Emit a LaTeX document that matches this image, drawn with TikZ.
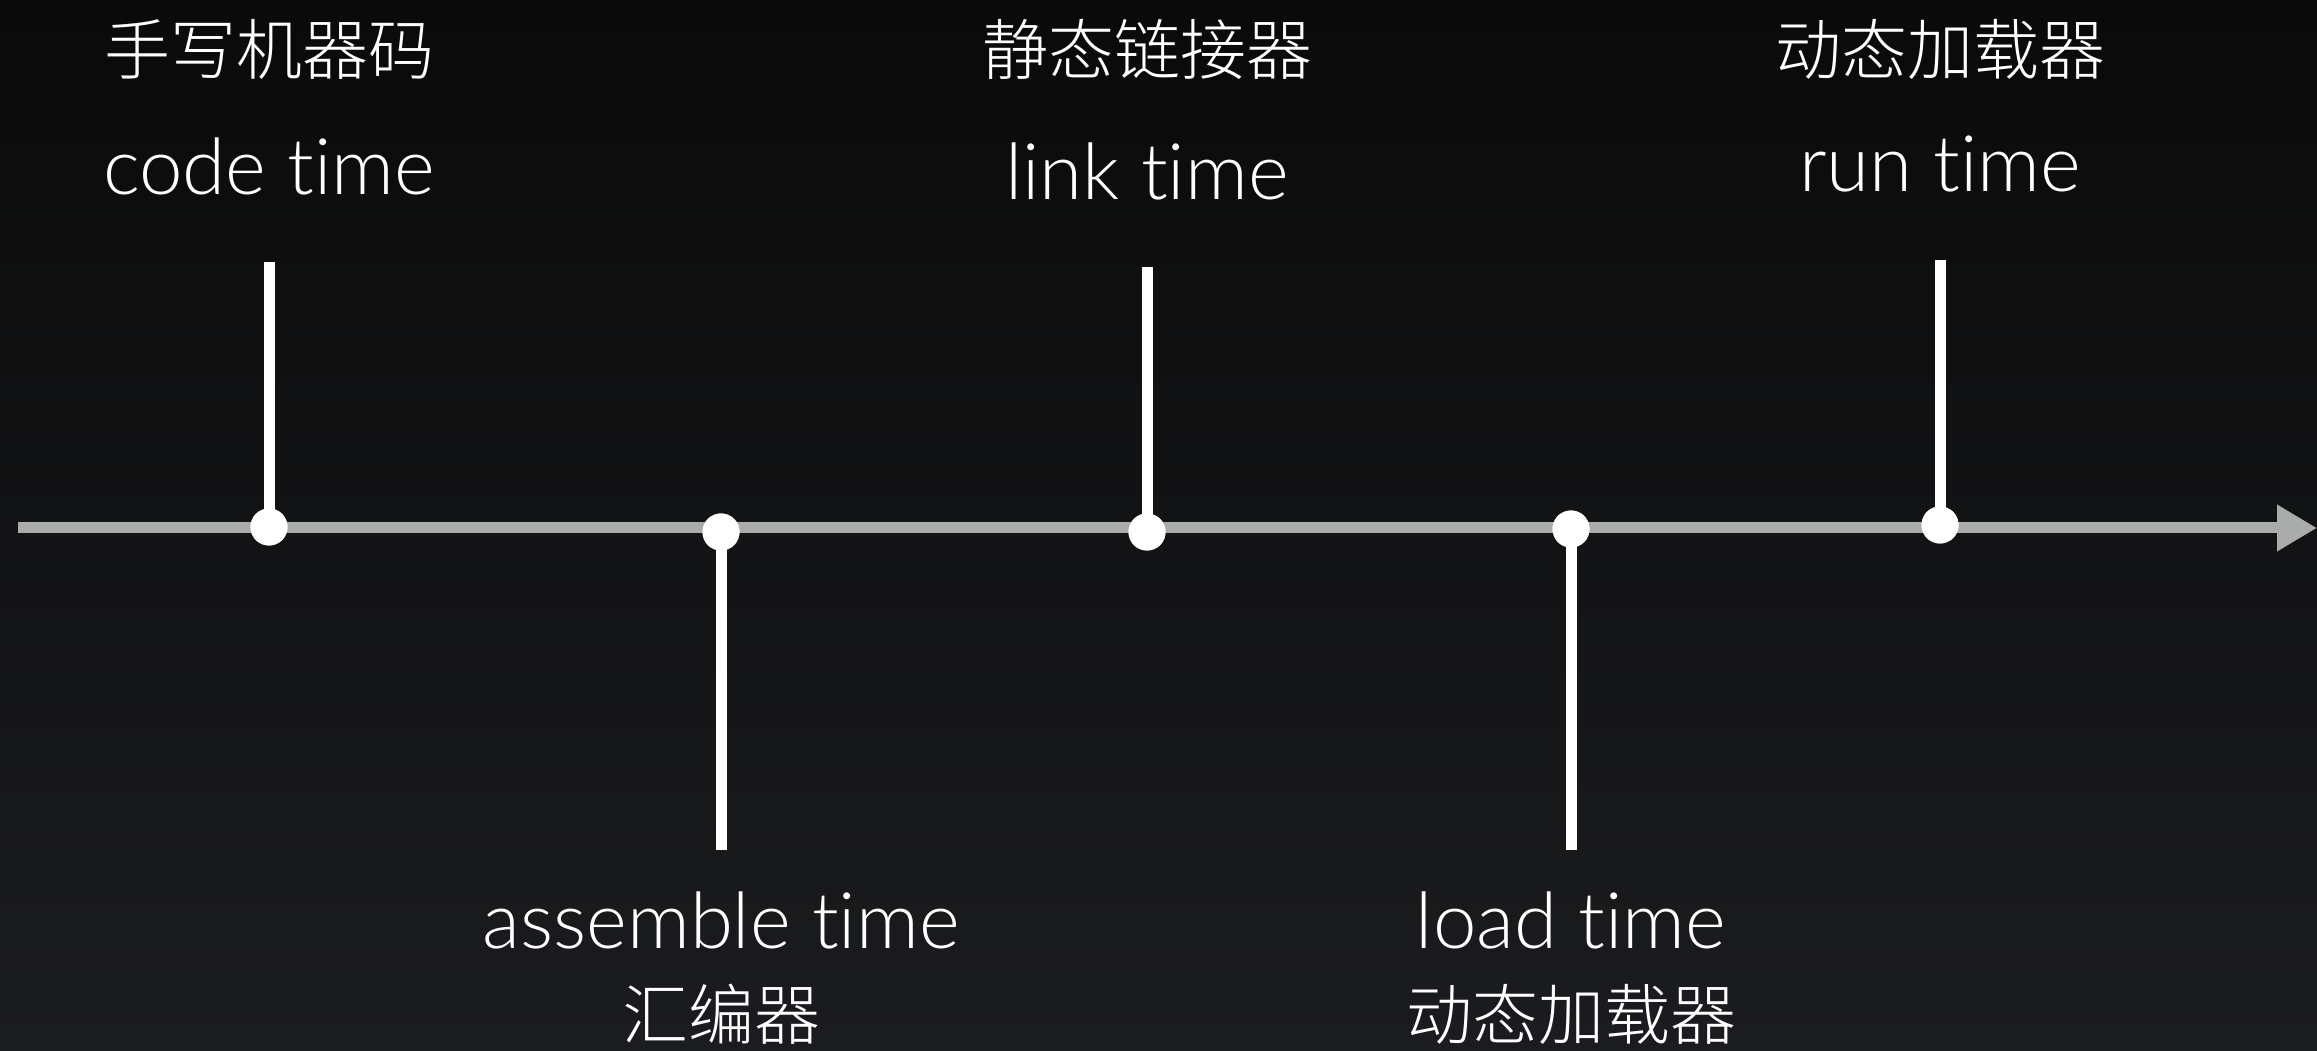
\documentclass[tikz,border=0pt]{standalone}
\usepackage{fontspec}
\setmainfont{Lato}[UprightFont=* Light,Ligatures=NoCommon]
\newfontfamily\cjk{Noto Sans CJK SC}[UprightFont=* Light]
\usetikzlibrary{arrows.meta}
\definecolor{bgtop}{HTML}{0A0A0A}
\definecolor{bgbot}{HTML}{1B1C1F}
\definecolor{axisgray}{HTML}{A9ACAA}
\begin{document}
\begin{tikzpicture}[x=1pt,y=1pt,
  tickline/.style={draw=white,line width=11pt},
  dot/.style={circle,fill=white,inner sep=0pt,minimum size=37pt},
  en/.style={text=white,font=\fontsize{78}{86}\selectfont,inner sep=0pt,anchor=base},
  zh/.style={text=white,font=\cjk\fontsize{66}{70}\selectfont,inner sep=0pt}]
\shade[top color=bgtop,bottom color=bgbot] (0,0) rectangle (2317,1050);
\useasboundingbox (0,0) rectangle (2317,1050);
% axis
\coordinate (axstart) at (18,522);
\coordinate (axend) at (2317,522);
\draw[draw=axisgray,line width=11pt,-{Triangle[length=40pt,width=44pt]}] (axstart) -- (axend);
% tick ends
\coordinate (t1) at (269,788);
\coordinate (t2) at (721,200);
\coordinate (t3) at (1147,783);
\coordinate (t4) at (1571,200);
\coordinate (t5) at (1940,790);
% dots
\node[dot] (d1) at (269,523) {};
\node[dot] (d2) at (721,518) {};
\node[dot] (d3) at (1147,518) {};
\node[dot] (d4) at (1571,521) {};
\node[dot] (d5) at (1940,525) {};
\draw[tickline] (t1) -- (d1.center);
\draw[tickline] (t2) -- (d2.center);
\draw[tickline] (t3) -- (d3.center);
\draw[tickline] (t4) -- (d4.center);
\draw[tickline] (t5) -- (d5.center);
\node[dot] at (d1) {};
\node[dot] at (d2) {};
\node[dot] at (d3) {};
\node[dot] at (d4) {};
\node[dot] at (d5) {};
% labels
\node[zh] (z1) at (269,1001) {手写机器码};
\node[en] (e1) at (269,855) {code time};
\node[zh] (z3) at (1147,1001) {静态链接器};
\node[en] (e3) at (1147,850) {link time};
\node[zh] (z5) at (1940,1001) {动态加载器};
\node[en] (e5) at (1940,858) {run time};
\node[en] (e2) at (721,102) {assemble time};
\node[zh] (z2) at (721,36) {汇编器};
\node[en] (e4) at (1571,102) {load time};
\node[zh] (z4) at (1571,36) {动态加载器};
\end{tikzpicture}
\end{document}
